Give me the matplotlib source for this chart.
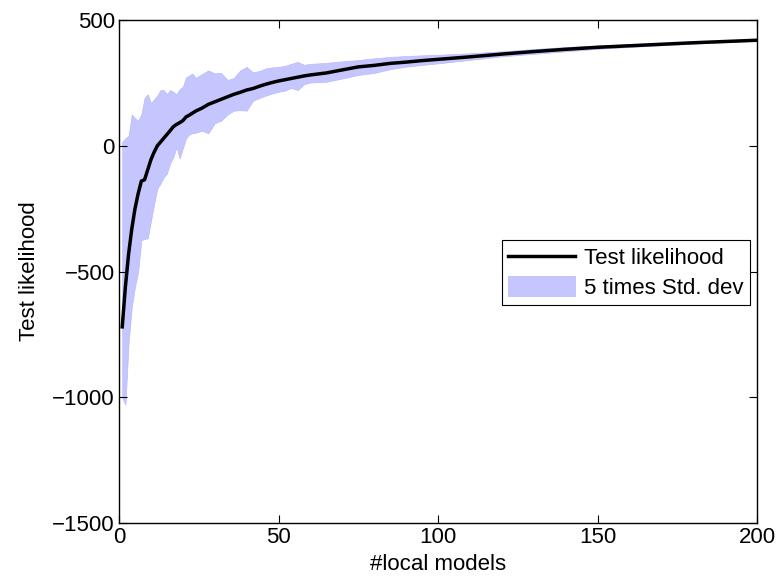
import matplotlib
matplotlib.use("Agg")
import matplotlib.pyplot as plt
import numpy as np

plt.rcParams['font.family'] = ['Liberation Sans', 'DejaVu Sans']

# number of local models
n_models = [1, 2, 3, 4, 5, 6, 7, 8, 9, 10, 11, 12, 13, 14, 15, 16, 17, 18, 19, 20,
            21, 22, 23, 24, 26, 28, 30, 32, 34, 36, 38, 40, 42, 44, 46, 48, 50,
            52, 54, 56, 58, 60, 65, 70, 75, 80, 85, 90, 95, 100,
            110, 120, 130, 140, 150, 160, 170, 180, 190, 200]

# mean test likelihood
test_ll = [-720, -560, -430, -330, -250, -190, -140, -135, -95, -55, -25, 0, 15, 30, 45, 60, 76, 85, 92, 100,
           115, 122, 130, 138, 150, 165, 175, 185, 195, 205, 213, 222, 228, 237, 245, 252, 258,
           263, 268, 273, 278, 282, 290, 302, 314, 320, 328, 333, 339, 344,
           354, 365, 375, 384, 392, 398, 404, 410, 415, 420]

# band edges (5 x std. dev)
band_hi = [15, 30, 40, 125, 110, 100, 125, 190, 205, 170, 185, 200, 222, 222, 205, 222, 215, 205, 225, 235,
           272, 280, 288, 270, 285, 300, 288, 290, 262, 270, 300, 314, 292, 298, 308, 312, 314,
           318, 326, 334, 322, 326, 330, 336, 341, 348, 354, 357, 360, 362,
           368, 376, 385, 393, 399, 404, 409, 414, 418, 422]
band_lo = [-1000, -1030, -780, -640, -560, -500, -375, -370, -368, -300, -230, -170, -150, -125, -110, -70, -45, -5, -50, -10,
           30, 45, 50, 52, 60, 50, 90, 100, 125, 140, 142, 140, 180, 190, 200, 208, 215,
           220, 230, 222, 245, 252, 255, 268, 282, 290, 305, 315, 322, 328,
           342, 356, 366, 376, 386, 393, 400, 406, 412, 418]

fig = plt.figure(figsize=(7.79, 5.8), dpi=100)
ax = fig.add_axes([0.1528, 0.0983, 0.819, 0.867])

band = ax.fill_between(n_models, band_lo, band_hi, facecolor='#c6c6ff', edgecolor='#b8b8ff',
                       linewidth=0.5, label='5 times Std. dev')
line, = ax.plot(n_models, test_ll, color='black', linewidth=2.5, label='Test likelihood')

ax.set_xlim(0, 200)
ax.set_ylim(-1500, 500)
ax.set_xticks([0, 50, 100, 150, 200])
ax.set_yticks([-1500, -1000, -500, 0, 500])
ax.tick_params(direction='in', top=True, right=True, labelsize=16, length=6, width=0.8, pad=3)
for s in ax.spines.values():
    s.set_linewidth(1.0)

ax.set_xlabel('#local models', fontsize=16, labelpad=4)
ax.set_ylabel('Test likelihood', fontsize=16, labelpad=9)

leg = ax.legend([line, band], ['Test likelihood', '5 times Std. dev'],
                loc='upper right', bbox_to_anchor=(0.989, 0.5626), fontsize=16,
                fancybox=False, framealpha=1, edgecolor='black',
                borderpad=0.3, handlelength=3.0, handleheight=1.0, handletextpad=0.4,
                labelspacing=0.3, borderaxespad=0)
leg.get_frame().set_linewidth(0.8)

fig.savefig('out.png', dpi=100)
